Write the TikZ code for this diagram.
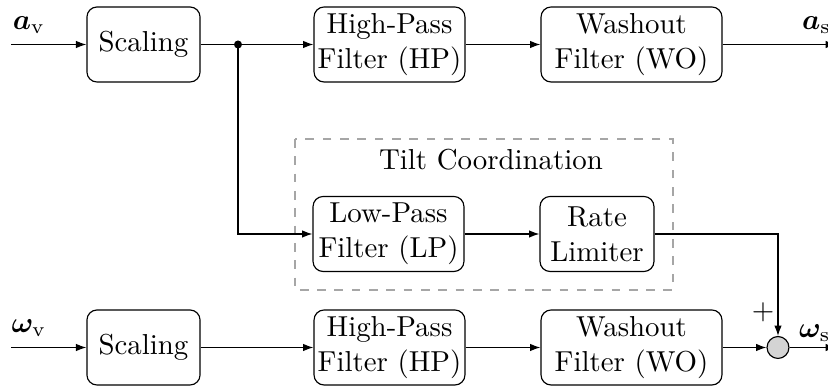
\documentclass[tikz,border=0pt]{standalone}
\usepackage{amsmath}
\usepackage{bm}
\usetikzlibrary{arrows.meta}
\begin{document}
\begin{tikzpicture}[x=0.3465pt,y=-0.3465pt,
  blk/.style={draw,rounded corners=3.5pt,align=center,inner sep=1pt,minimum height=26pt},
  arr/.style={-{Latex[length=3.6pt,width=2.6pt]}},
  sumnode/.style={circle,draw,fill=black!17,minimum size=7.6pt,inner sep=0pt},
  every node/.style={font=\normalsize}]
\useasboundingbox (0,0) rectangle (828,387);
% top row
\coordinate (in1) at (11,44.5);
\node[blk,minimum width=39.2pt] (sc1) at (143.5,44.5) {Scaling};
\node[blk,minimum width=52.3pt] (hp1) at (389.5,44.5) {High-Pass\\Filter (HP)};
\node[blk,minimum width=62.7pt] (wo1) at (631.5,44.5) {Washout\\Filter (WO)};
\coordinate (out1) at (836,44.5);
\coordinate (j) at (238,44.5);
% tilt
\node[blk,minimum width=52.3pt] (lp) at (388.5,234) {Low-Pass\\Filter (LP)};
\node[blk,minimum width=39.5pt] (rl) at (597,234) {Rate\\Limiter};
\draw[black!35,dashed] (295,139) rectangle (673,290);
\node (tc) at (491,160) {Tilt Coordination};
% bottom row
\coordinate (in2) at (11,347.5);
\node[blk,minimum width=39.2pt] (sc2) at (143.5,347.5) {Scaling};
\node[blk,minimum width=52.3pt] (hp2) at (389.5,347.5) {High-Pass\\Filter (HP)};
\node[blk,minimum width=62.7pt] (wo2) at (631.5,347.5) {Washout\\Filter (WO)};
\node[sumnode] (sum) at (778,347.5) {};
\coordinate (out2) at (836,347.5);
% labels
\node (av) at (29,25) {$\bm{a}_\mathrm{v}$};
\node (wv) at (29,328) {$\bm{\omega}_\mathrm{v}$};
\node[anchor=west] (as) at (792,25) {$\bm{a}_\mathrm{s}$};
\node[anchor=west] (ws) at (789,333) {$\bm{\omega}_\mathrm{s}$};
\node (plus) at (763,312) {$+$};
% connectors
\draw[arr] (in1) -- (sc1);
\draw (sc1) -- (j);
\draw[arr] (j) -- (hp1);
\fill (j) circle (4);
\draw[arr] (hp1) -- (wo1);
\draw[arr] (wo1) -- (out1);
\draw[arr] (j) |- (lp);
\draw[arr] (lp) -- (rl);
\draw[arr] (rl.east) -| (sum.north);
\draw[arr] (in2) -- (sc2);
\draw[arr] (sc2) -- (hp2);
\draw[arr] (hp2) -- (wo2);
\draw[arr] (wo2) -- (sum);
\draw[arr] (sum) -- (out2);
\end{tikzpicture}
\end{document}
